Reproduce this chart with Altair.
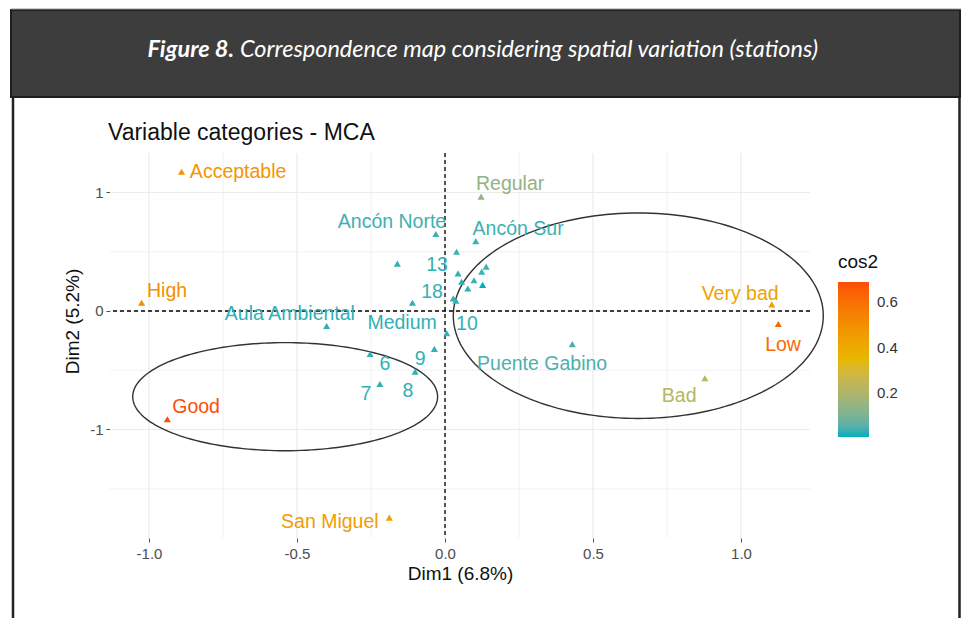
import numpy as np
import pandas as pd
import altair as alt

# ---------------- data ----------------
names = ["Acceptable", "High", "Good", "San Miguel", "Regular", "Ancón Norte",
         "Ancón Sur", "Very bad", "Low", "Puente Gabino", "Bad", "Aula Ambiental",
         "Medium", "13", "18", "10", "9", "6", "8", "7"]
dim1 = [-0.89, -1.025, -0.938, -0.188, 0.122, -0.031, 0.104, 1.104, 1.126, 0.43,
        0.878, -0.40, 0.006, 0.044, -0.11, 0.037, -0.036, -0.253, -0.101, -0.22]
dim2 = [1.175, 0.07, -0.914, -1.744, 0.965, 0.65, 0.59, 0.056, -0.11, -0.28,
        -0.568, -0.127, -0.188, 0.318, 0.07, 0.087, -0.32, -0.363, -0.512, -0.616]
cos2 = [0.48, 0.50, 0.69, 0.45, 0.14, 0.03, 0.03, 0.43, 0.62, 0.04,
        0.22, 0.02, 0.02, 0.02, 0.02, 0.02, 0.02, 0.02, 0.02, 0.02]
# repelled label positions
label_x = [-0.699, -0.939, -0.841, -0.389, 0.22, -0.179, 0.247, 0.997, 1.142, 0.328,
           0.791, -0.524, -0.145, -0.027, -0.044, 0.074, -0.084, -0.203, -0.125, -0.267]
label_y = [1.173, 0.169, -0.81, -1.78, 1.072, 0.751, 0.692, 0.143, -0.287, -0.447,
           -0.717, -0.025, -0.101, 0.388, 0.16, -0.11, -0.405, -0.447, -0.675, -0.70]

# unlabelled (overlapping) category points
extra_dim1 = [0.028, 0.039, -0.161, 0.139, 0.124, 0.056, 0.098, 0.077, 0.127]
extra_dim2 = [0.107, 0.50, 0.40, 0.374, 0.332, 0.247, 0.26, 0.19, 0.22]
extra_cos2 = [0.02, 0.03, 0.02, 0.03, 0.03, 0.02, 0.03, 0.02, 0.005]

# concentration ellipses (centre, semi-axes)
ell_id = ["left", "right"]
ell_cx = [-0.54, 0.653]
ell_cy = [-0.723, -0.04]
ell_rx = [0.515, 0.625]
ell_ry = [0.456, 0.867]

x_ticks = [-1.0, -0.5, 0.0, 0.5, 1.0]
y_ticks = [-1, 0, 1]
x_minor = [-0.75, -0.25, 0.25, 0.75]
y_minor = [-1.5, -0.5, 0.5]
legend_ticks = [0.2, 0.4, 0.6]

# ---------------- tables ----------------
pts = pd.DataFrame({"name": names, "Dim1": dim1, "Dim2": dim2, "cos2": cos2,
                    "lx": label_x, "ly": label_y})
extra = pd.DataFrame({"name": "", "Dim1": extra_dim1, "Dim2": extra_dim2, "cos2": extra_cos2})
allpts = pd.concat([pts[["name", "Dim1", "Dim2", "cos2"]], extra], ignore_index=True)

t = np.linspace(0, 2 * np.pi, 181)
rows = []
for i, e in enumerate(ell_id):
    for k, tt in enumerate(t):
        rows.append({"ell": e, "k": k,
                     "x": ell_cx[i] + ell_rx[i] * np.cos(tt),
                     "y": ell_cy[i] + ell_ry[i] * np.sin(tt)})
ell = pd.DataFrame(rows)

FONT = "Liberation Sans"
XDOM = [-1.1318, 1.2331]
YDOM = [-1.9156, 1.3333]
W, H = 700, 385

xs = alt.Scale(domain=XDOM, nice=False, zero=False)
ys = alt.Scale(domain=YDOM, nice=False, zero=False)
cmin = min(cos2 + extra_cos2)
cmax = max(cos2 + extra_cos2)
cscale = alt.Scale(domain=[cmin, cmax], range=["#00AFBB", "#E7B800", "#FC4E07"],
                   interpolate="lab")

fix_minus = "replace(format(datum.value, '{f}'), '\u2212', '-')"

xaxis = alt.Axis(values=x_ticks, labelExpr=fix_minus.format(f=".1f"), grid=False, domain=False,
                 tickSize=4, tickColor="#4d4d4d", labelColor="#4d4d4d", labelFontSize=15,
                 labelFont=FONT, labelPadding=4, title="Dim1 (6.8%)", titleFont=FONT,
                 titleFontSize=19, titleFontWeight="normal", titleColor="#111", titlePadding=3)
yaxis = alt.Axis(values=y_ticks, labelExpr=fix_minus.format(f="d"), grid=False, domain=False,
                 tickSize=4, tickColor="#4d4d4d", labelColor="#4d4d4d", labelFontSize=15,
                 labelFont=FONT, labelPadding=3, title="Dim2 (5.2%)", titleFont=FONT,
                 titleFontSize=19, titleFontWeight="normal", titleColor="#111",
                 titleX=-38, titleY=168, titleAlign="center", titleBaseline="middle")

one = pd.DataFrame({"a": [0]})

# grid
gx_major = alt.Chart(pd.DataFrame({"v": x_ticks})).mark_rule(color="#ebebeb", strokeWidth=1.2).encode(
    x=alt.X("v:Q", scale=xs, axis=xaxis))
gx_minor = alt.Chart(pd.DataFrame({"v": x_minor})).mark_rule(color="#f0f0f0", strokeWidth=0.9).encode(
    x=alt.X("v:Q", scale=xs))
gy_major = alt.Chart(pd.DataFrame({"v": y_ticks})).mark_rule(color="#ebebeb", strokeWidth=1.2).encode(
    y=alt.Y("v:Q", scale=ys, axis=yaxis))
gy_minor = alt.Chart(pd.DataFrame({"v": y_minor})).mark_rule(color="#f0f0f0", strokeWidth=0.9).encode(
    y=alt.Y("v:Q", scale=ys))

# dashed zero lines
zx = alt.Chart(one).mark_rule(color="black", strokeWidth=1.3, strokeDash=[4, 3]).encode(
    x=alt.datum(0, scale=xs))
zy = alt.Chart(one).mark_rule(color="black", strokeWidth=1.3, strokeDash=[4, 3]).encode(
    y=alt.datum(0, scale=ys))

ellipses = alt.Chart(ell).mark_line(color="#333333", strokeWidth=1.4).encode(
    x=alt.X("x:Q", scale=xs), y=alt.Y("y:Q", scale=ys), detail="ell:N", order="k:Q")

points = alt.Chart(allpts).mark_point(shape="triangle-up", filled=True, size=50, opacity=1).encode(
    x=alt.X("Dim1:Q", scale=xs), y=alt.Y("Dim2:Q", scale=ys),
    color=alt.Color("cos2:Q", scale=cscale,
                    legend=alt.Legend(title="cos2", values=legend_ticks, orient="none",
                                      legendX=728, legendY=100, direction="vertical",
                                      gradientLength=155, gradientThickness=31,
                                      gradientStrokeWidth=0, labelFontSize=15, labelFont=FONT,
                                      labelColor="#333", labelOffset=8, titleFont=FONT,
                                      titleFontSize=19, titleFontWeight="normal",
                                      titleColor="#111", titlePadding=10, format=".1f")))

labels = alt.Chart(pts).mark_text(font=FONT, fontSize=19.5, align="center", baseline="middle").encode(
    x=alt.X("lx:Q", scale=xs), y=alt.Y("ly:Q", scale=ys), text="name:N",
    color=alt.Color("cos2:Q", scale=cscale))

# plot title (placed as text because the page header sits above it)
title_mark = alt.Chart(one).mark_text(font=FONT, fontSize=23, color="#111", align="left",
                                      baseline="alphabetic").encode(
    x=alt.value(-2), y=alt.value(-13), text=alt.value("Variable categories - MCA"))

# figure frame / header (page decoration, pixel placed relative to plot origin)
hdr = alt.Chart(one).mark_rect(color="#3d3d3d", stroke="#1e1e1e", strokeWidth=2).encode(
    x=alt.value(-99), x2=alt.value(850), y=alt.value(-143), y2=alt.value(-56))
top_line = alt.Chart(one).mark_rule(color="#9a9a9a", strokeWidth=1).encode(
    x=alt.value(-99), x2=alt.value(851), y=alt.value(-144))
left_line = alt.Chart(one).mark_rule(color="#222", strokeWidth=2.5).encode(
    x=alt.value(-97), y=alt.value(-56), y2=alt.value(470))
right_line = alt.Chart(one).mark_rule(color="#222", strokeWidth=2.5).encode(
    x=alt.value(849.5), y=alt.value(-56), y2=alt.value(470))
hdr_bold = alt.Chart(one).mark_text(font="Lato", fontSize=23.5, fontStyle="italic", fontWeight="bold",
                                    color="white", align="right", baseline="alphabetic").encode(
    x=alt.value(124), y=alt.value(-96), text=alt.value("Figure 8."))
hdr_rest = alt.Chart(one).mark_text(font="Lato", fontSize=23.5, fontStyle="italic",
                                    color="white", align="left", baseline="alphabetic").encode(
    x=alt.value(130), y=alt.value(-96),
    text=alt.value("Correspondence map considering spatial variation (stations)"))

chart = alt.layer(
    gx_minor, gy_minor, gx_major, gy_major, zx, zy, ellipses, points, labels, title_mark,
    hdr, top_line, left_line, right_line, hdr_bold, hdr_rest
).properties(
    width=W, height=H,
    autosize=alt.AutoSizeParams(type="none"),
    padding={"left": 110, "top": 153, "right": 151, "bottom": 80},
    background="white",
).configure_view(stroke=None)

chart.save("out.html", embed_options={"renderer": "svg", "actions": False})
